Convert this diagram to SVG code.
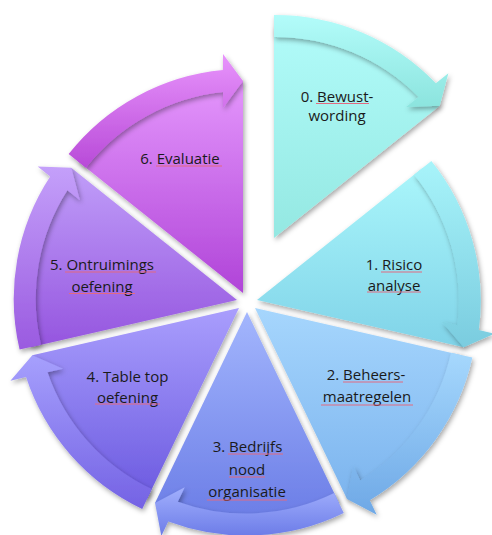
<svg xmlns="http://www.w3.org/2000/svg" width="492" height="535" viewBox="0 0 492 535">
<defs>
<filter id="sh" x="-20%" y="-20%" width="140%" height="140%">
<feDropShadow dx="1.5" dy="2.5" stdDeviation="2.5" flood-color="#000" flood-opacity="0.35"/>
</filter>
<linearGradient id="w0" x1="0" y1="0" x2="0" y2="1"><stop offset="0" stop-color="#b1fbf9"/><stop offset="1" stop-color="#94e8e2"/></linearGradient>
<linearGradient id="a0" x1="0" y1="0" x2="0" y2="1"><stop offset="0" stop-color="#b3fcfa"/><stop offset="1" stop-color="#8ce4de"/></linearGradient>
<linearGradient id="w1" x1="0" y1="0" x2="0" y2="1"><stop offset="0" stop-color="#aaf6fb"/><stop offset="1" stop-color="#80d3e8"/></linearGradient>
<linearGradient id="a1" x1="0" y1="0" x2="0" y2="1"><stop offset="0" stop-color="#a8f4fa"/><stop offset="1" stop-color="#7accdf"/></linearGradient>
<linearGradient id="w2" x1="0" y1="0" x2="0" y2="1"><stop offset="0" stop-color="#a6d6fd"/><stop offset="1" stop-color="#7cb4ee"/></linearGradient>
<linearGradient id="a2" x1="0" y1="0" x2="0" y2="1"><stop offset="0" stop-color="#a6d8fd"/><stop offset="1" stop-color="#6ea8e6"/></linearGradient>
<linearGradient id="w3" x1="0" y1="0" x2="0" y2="1"><stop offset="0" stop-color="#a3b6fd"/><stop offset="1" stop-color="#6a7ce6"/></linearGradient>
<linearGradient id="a3" x1="0" y1="0" x2="0" y2="1"><stop offset="0" stop-color="#a2b0fd"/><stop offset="1" stop-color="#6c7ce8"/></linearGradient>
<linearGradient id="w4" x1="0" y1="0" x2="0" y2="1"><stop offset="0" stop-color="#a99efd"/><stop offset="1" stop-color="#6c5ae0"/></linearGradient>
<linearGradient id="a4" x1="0" y1="0" x2="0" y2="1"><stop offset="0" stop-color="#a6a0fd"/><stop offset="1" stop-color="#7462e4"/></linearGradient>
<linearGradient id="w5" x1="0" y1="0" x2="0" y2="1"><stop offset="0" stop-color="#c09ef9"/><stop offset="1" stop-color="#9555df"/></linearGradient>
<linearGradient id="a5" x1="0" y1="0" x2="0" y2="1"><stop offset="0" stop-color="#c4a0fa"/><stop offset="1" stop-color="#9a5ae0"/></linearGradient>
<linearGradient id="w6" x1="0" y1="0" x2="0" y2="1"><stop offset="0" stop-color="#e496fc"/><stop offset="1" stop-color="#b044d8"/></linearGradient>
<linearGradient id="a6" x1="0" y1="0" x2="0" y2="1"><stop offset="0" stop-color="#e894fc"/><stop offset="1" stop-color="#b84ad8"/></linearGradient>
</defs>
<style>
.wedge{filter:url(#sh)}
.arrow{filter:url(#sh)}
.lbl{font-family:"Open Sans","Noto Sans","DejaVu Sans",sans-serif;font-size:15px;fill:#1a1a1a;text-anchor:middle}
.sp{stroke:#e26a80;stroke-width:1;fill:none}
</style>
<rect width="492" height="535" fill="#ffffff"/>

<g id="seg0">
<path class="wedge" fill="url(#w0)" d="M274,238 L274,26 A212,212 0 0 1 439.75,105.82 Z"/>
<text class="lbl" x="337" y="101.5">0. Bewust-</text>
<text class="lbl" x="337" y="120.5">wording</text>
<line class="sp" x1="316" y1="103.5" x2="369" y2="103.5"/>
</g>

<g id="seg1">
<path class="wedge" fill="url(#w1)" d="M257,300 L422.75,167.82 A212,212 0 0 1 463.69,347.17 Z"/>
<text class="lbl" x="394" y="270">1. Risico</text>
<text class="lbl" x="394" y="290.5">analyse</text>
<line class="sp" x1="381" y1="272" x2="422" y2="272"/>
<line class="sp" x1="367" y1="292" x2="421" y2="292"/>
</g>

<g id="seg2">
<path class="wedge" fill="url(#w2)" d="M255,308 L461.69,355.17 A212,212 0 0 1 346.98,499.01 Z"/>
<text class="lbl" x="366" y="380">2. Beheers-</text>
<text class="lbl" x="367" y="401.5">maatregelen</text>
<line class="sp" x1="343" y1="382" x2="403" y2="382"/>
<line class="sp" x1="321" y1="405" x2="413" y2="405"/>
</g>

<g id="seg3">
<path class="wedge" fill="url(#w3)" d="M247,312 L338.98,503.01 A212,212 0 0 1 155.02,503.01 Z"/>
<text class="lbl" x="247.5" y="452">3. Bedrijfs</text>
<text class="lbl" x="247" y="475">nood</text>
<text class="lbl" x="247" y="497">organisatie</text>
<line class="sp" x1="228" y1="454" x2="283" y2="454"/>
<line class="sp" x1="229" y1="477" x2="265" y2="477"/>
<line class="sp" x1="207" y1="500" x2="287" y2="500"/>
</g>

<g id="seg4">
<path class="wedge" fill="url(#w4)" d="M239,308 L147.02,499.01 A212,212 0 0 1 32.32,355.17 Z"/>
<text class="lbl" x="127.5" y="382">4. Table top</text>
<text class="lbl" x="127.5" y="402.5">oefening</text>
<line class="sp" x1="95" y1="404" x2="160" y2="404"/>
</g>

<g id="seg5">
<path class="wedge" fill="url(#w5)" d="M237,300 L30.32,347.17 A212,212 0 0 1 71.25,167.82 Z"/>
<text class="lbl" x="102" y="270">5. Ontruimings</text>
<text class="lbl" x="102" y="291.5">oefening</text>
<line class="sp" x1="65" y1="272" x2="156" y2="272"/>
<line class="sp" x1="69" y1="293.5" x2="135" y2="293.5"/>
</g>

<g id="seg6">
<path class="wedge" fill="url(#w6)" d="M243,293 L77.25,160.82 A212,212 0 0 1 243,81 Z"/>
<text class="lbl" x="180" y="164">6. Evaluatie</text>
<line class="sp" x1="156" y1="166" x2="222" y2="166"/>
</g>

<g id="connectors">
<path class="arrow" fill="url(#a0)" d="M274,15 A223,223 0 0 1 435.88,83.33 L448.39,73.35 L439.75,105.82 L406.17,107.02 L418.68,97.04 A201,201 0 0 0 274,37 Z"/>
<path class="arrow" fill="url(#a1)" d="M431.35,160.96 A223,223 0 0 1 478.86,330.12 L494.46,333.68 L463.69,347.17 L441.81,321.67 L457.41,325.23 A201,201 0 0 0 414.15,174.68 Z"/>
<path class="arrow" fill="url(#a2)" d="M472.41,357.62 A223,223 0 0 1 369.78,500.24 L376.72,514.65 L346.98,499.01 L353.29,466 L360.23,480.42 A201,201 0 0 0 450.96,352.73 Z"/>
<path class="arrow" fill="url(#a3)" d="M343.76,512.92 A223,223 0 0 1 168.26,521.59 L161.32,536.01 L155.02,503.01 L184.75,487.36 L177.81,501.77 A201,201 0 0 0 334.21,493.1 Z"/>
<path class="arrow" fill="url(#a4)" d="M142.24,508.92 A223,223 0 0 1 26.04,377.12 L10.44,380.68 L32.32,355.17 L63.09,368.67 L47.49,372.23 A201,201 0 0 0 151.79,489.1 Z"/>
<path class="arrow" fill="url(#a5)" d="M19.59,349.62 A223,223 0 0 1 50.18,176.6 L37.67,166.62 L71.25,167.82 L79.89,200.29 L67.38,190.32 A201,201 0 0 0 41.04,344.73 Z"/>
<path class="arrow" fill="url(#a6)" d="M68.65,153.96 A223,223 0 0 1 223,70 L223,54 L243,81 L223,108 L223,92 A201,201 0 0 0 85.85,167.68 Z"/>
</g>
</svg>
